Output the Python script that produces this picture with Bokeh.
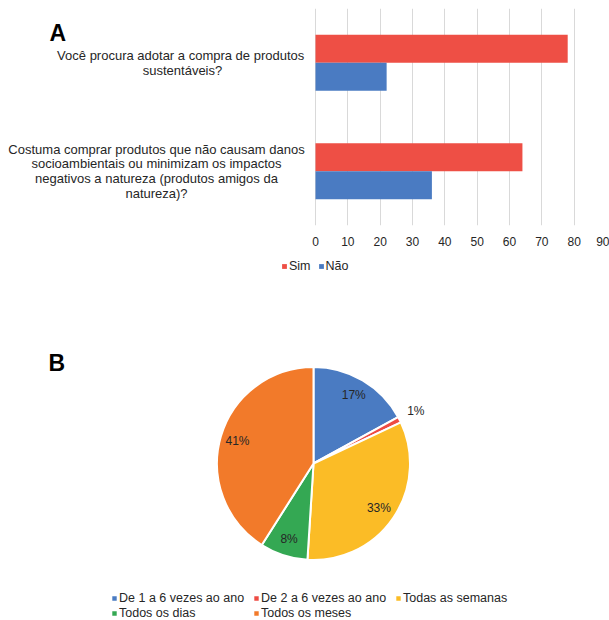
import numpy as np
from bokeh.plotting import figure
from bokeh.models import (Range1d, Label, Legend, LegendItem, ColumnDataSource,
                          FixedTicker)
from bokeh.layouts import column
from bokeh.transform import dodge
from bokeh.embed import file_html
from bokeh.resources import INLINE

# ---------------- Data: chart A ----------------
questions = [
    "Você procura adotar  a compra de produtos\nsustentáveis?",
    "Costuma comprar produtos que não causam danos\nsocioambientais ou minimizam os impactos\n"
    "negativos a natureza (produtos amigos da\nnatureza)?",
]
sim = [78, 64]
nao = [22, 36]
series_names = ["Sim", "Não"]
x_ticks = [0, 10, 20, 30, 40, 50, 60, 70, 80, 90]

# ---------------- Data: chart B ----------------
pie_labels = ["De 1 a 6 vezes ao ano", "De 2 a 6 vezes ao ano", "Todas as semanas",
              "Todos os dias", "Todos os meses"]
pie_values = [17, 1, 33, 8, 41]

# ---------------- Style ----------------
FONT = "Liberation Sans"
TXT = "#262626"
RED = "#EE4F45"
BLUE = "#4A7BC2"
pie_colors = ["#4A7BC2", "#EE4B43", "#FBBC26", "#34A853", "#F27A2A"]
W = 609
RB = 3  # right border shared by both figures (column aligns frames)

# ================= Chart A =================
H1 = 250
ZERO_PX, NINETY_PX, FRAME_T, FRAME_B = 315, W - RB, 8, 225
ppu_x = (NINETY_PX - ZERO_PX) / 90.0
x_start = -ZERO_PX / ppu_x
n = len(questions)
ppu_y = (FRAME_B - FRAME_T) / n


def px2x(px):
    return x_start + px / ppu_x


def py2y(py):
    return n - (py - FRAME_T) / ppu_y


p1 = figure(width=W, height=H1, x_range=Range1d(x_start, 90), y_range=Range1d(0, n),
            output_backend="svg", toolbar_location=None, y_axis_location=None,
            min_border_left=0, min_border_right=RB,
            min_border_top=FRAME_T, min_border_bottom=H1 - FRAME_B)

yc = [n - i - 0.5 for i in range(n)]
bar_h = 28 / ppu_y
src = ColumnDataSource(dict(yc=yc, sim=sim, nao=nao))
r_sim = p1.hbar(y=dodge("yc", bar_h / 2), left=0, right="sim", height=bar_h,
                fill_color=RED, line_color=None, source=src)
r_nao = p1.hbar(y=dodge("yc", -bar_h / 2), left=0, right="nao", height=bar_h,
                fill_color=BLUE, line_color=None, source=src)

p1.xaxis.ticker = FixedTicker(ticks=x_ticks)
p1.xaxis.major_tick_line_color = None
p1.xaxis.minor_tick_line_color = None
p1.xaxis.axis_line_color = None
p1.xaxis.major_label_standoff = 5
p1.xaxis.major_label_text_font = FONT
p1.xaxis.major_label_text_font_size = "12px"
p1.xaxis.major_label_text_color = TXT
p1.xgrid.ticker = FixedTicker(ticks=x_ticks)
p1.xgrid.grid_line_color = "#d9d9d9"
p1.ygrid.visible = False
p1.outline_line_color = None

label_cx = [182, 156]
for i, q in enumerate(questions):
    p1.add_layout(Label(x=px2x(label_cx[i]), y=yc[i], text=q,
                        text_align="center", text_baseline="middle",
                        text_font=FONT, text_font_size="13px", text_color=TXT,
                        text_line_height=0.97))

p1.add_layout(Label(x=px2x(49), y=py2y(32), text="A",
                    text_font=FONT, text_font_style="bold", text_font_size="23px",
                    text_color="#000000", text_baseline="alphabetic"))

# ================= Chart B =================
H2 = 620 - H1
R = 96.5
CX, CY = 313, 463 - H1
FW2 = W - RB
p2 = figure(width=W, height=H2,
            x_range=Range1d(-CX / R, (FW2 - CX) / R),
            y_range=Range1d(-(H2 - CY) / R, CY / R),
            output_backend="svg", toolbar_location=None,
            x_axis_location=None, y_axis_location=None,
            min_border_left=0, min_border_right=RB, min_border_top=0, min_border_bottom=0)
p2.grid.visible = False
p2.outline_line_color = None

vals = np.array(pie_values, dtype=float)
frac = vals / vals.sum()
cum_end = np.cumsum(frac)
cum_start = cum_end - frac
start_angle = np.pi / 2 - 2 * np.pi * cum_end
end_angle = np.pi / 2 - 2 * np.pi * cum_start
mid = np.pi / 2 - 2 * np.pi * (cum_start + frac / 2)
lab_r = np.where(vals >= 3, 0.82, 1.19)
psrc = ColumnDataSource(dict(cat=pie_labels, val=pie_values, color=pie_colors,
                             start=start_angle, end=end_angle,
                             lx=lab_r * np.cos(mid), ly=lab_r * np.sin(mid),
                             txt=[f"{v}%" for v in pie_values]))
rw = p2.wedge(x=0, y=0, radius=1, start_angle="start", end_angle="end",
              fill_color="color", line_color="white", line_width=2, source=psrc)
p2.text(x="lx", y="ly", text="txt", text_align="center", text_baseline="middle",
        text_font_size="12px", text_color=TXT, source=psrc,
        text_font={"value": FONT})

p2.add_layout(Label(x=(48 - CX) / R, y=(CY - (362 - H1)) / R, text="B",
                    text_font=FONT, text_font_style="bold", text_font_size="23px",
                    text_color="#000000", text_baseline="alphabetic"))

# legend for chart A, drawn in the canvas area just below chart A's axis
# (proxy renderers carry only the series colours; they hold no visible data)
proxy = ColumnDataSource(dict(y=[np.nan], right=[np.nan]))
leg_sim = p2.hbar(y="y", right="right", height=1, fill_color=RED, line_color=None,
                  source=proxy)
leg_nao = p2.hbar(y="y", right="right", height=1, fill_color=BLUE, line_color=None,
                  source=proxy)
leg1 = Legend(items=[LegendItem(label=series_names[0], renderers=[leg_sim]),
                     LegendItem(label=series_names[1], renderers=[leg_nao])],
              location=(281, 620 - 266 - 7), orientation="horizontal",
              glyph_width=6, glyph_height=6, label_standoff=2, spacing=7,
              padding=0, margin=0, border_line_color=None, background_fill_alpha=0,
              label_text_font=FONT, label_text_font_size="12.5px",
              label_text_color=TXT, label_height=12)
p2.add_layout(leg1)

leg2 = Legend(items=[LegendItem(label=lab, renderers=[rw], index=i)
                     for i, lab in enumerate(pie_labels)],
              location=(110, 0), orientation="horizontal", ncols=3,
              glyph_width=8, glyph_height=8, label_standoff=1, spacing=1,
              label_width=132, padding=0, margin=0, border_line_color=None,
              background_fill_alpha=0, label_text_font=FONT,
              label_text_font_size="12.5px", label_text_color=TXT)
p2.add_layout(leg2)

layout = column(p1, p2, spacing=0)
open("out.html", "w").write(file_html(layout, INLINE))
